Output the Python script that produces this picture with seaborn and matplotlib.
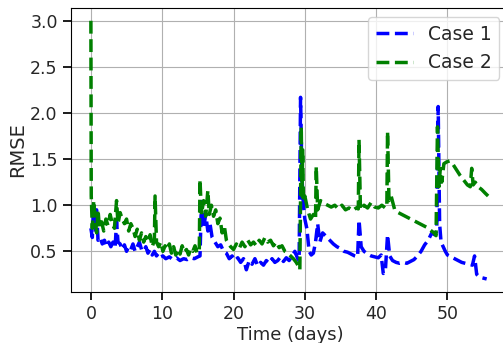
import matplotlib
matplotlib.use("Agg")
import matplotlib.pyplot as plt
import seaborn as sns
import pandas as pd

# ---- data ----
t1 = [0.0, 0.2, 0.4, 0.6, 0.8, 1.0, 1.3, 1.6, 1.9, 2.2,
      2.5, 2.8, 3.1, 3.4, 3.6, 3.8, 4.1, 4.4, 4.7, 5.0,
      5.3, 5.6, 5.9, 6.2, 6.5, 6.8, 7.1, 7.4, 7.7, 8.0,
      8.3, 8.6, 8.9, 9.2, 9.5, 9.8, 10.1, 10.5, 11.0, 11.5,
      12.0, 12.5, 13.0, 13.5, 14.0, 14.5, 15.0, 15.3, 15.5, 15.8,
      16.1, 16.4, 16.7, 17.0, 17.4, 17.8, 18.2, 18.6, 19.0, 19.4,
      19.8, 20.2, 20.6, 21.0, 21.4, 21.8, 22.2, 22.6, 23.0, 23.4,
      23.8, 24.2, 24.6, 25.0, 25.4, 25.8, 26.2, 26.6, 27.0, 27.4,
      27.8, 28.2, 28.6, 29.0, 29.2, 29.4, 29.6, 29.8, 30.0, 30.3,
      30.6, 30.9, 31.2, 31.5, 31.8, 32.1, 32.5, 33.0, 33.5, 34.0,
      34.5, 35.0, 35.5, 36.0, 36.5, 37.0, 37.4, 37.6, 37.9, 38.3,
      38.8, 39.3, 39.8, 40.3, 40.7, 41.0, 41.3, 41.6, 41.9, 42.3,
      42.8, 43.3, 43.8, 44.3, 44.8, 45.3, 45.8, 46.3, 46.8, 47.3,
      47.8, 48.2, 48.5, 48.7, 48.9, 49.1, 49.4, 49.7, 50.0, 50.5,
      51.0, 51.5, 52.0, 52.5, 53.0, 53.5, 53.8, 54.1, 54.5, 55.0,
      55.5]
case1 = [0.75, 0.65, 1.0, 0.7, 0.95, 0.62, 0.65, 0.58, 0.62, 0.55,
         0.6, 0.55, 0.6, 0.55, 0.82, 0.6, 0.58, 0.52, 0.57, 0.5,
         0.55, 0.52, 0.58, 0.5, 0.55, 0.6, 0.52, 0.5, 0.55, 0.48,
         0.52, 0.46, 0.5, 0.45, 0.48, 0.44, 0.45, 0.42, 0.44, 0.41,
         0.43, 0.4, 0.42, 0.41, 0.43, 0.42, 0.44, 0.45, 1.04, 0.75,
         0.9, 0.72, 0.8, 0.65, 0.6, 0.55, 0.57, 0.5, 0.48, 0.42,
         0.45, 0.4, 0.43, 0.38, 0.42, 0.3, 0.4, 0.36, 0.42, 0.34,
         0.38, 0.35, 0.4, 0.37, 0.42, 0.38, 0.4, 0.44, 0.39, 0.43,
         0.4, 0.45, 0.5, 0.42, 0.4, 2.17, 1.3, 1.0, 0.85, 0.74,
         0.5, 0.46, 0.48, 0.6, 0.8, 0.6, 0.7, 0.66, 0.62, 0.58,
         0.55, 0.53, 0.5, 0.49, 0.47, 0.45, 0.44, 0.84, 0.55, 0.5,
         0.47, 0.45, 0.44, 0.43, 0.46, 0.26, 0.3, 0.68, 0.45, 0.4,
         0.38, 0.37, 0.38, 0.37, 0.39, 0.41, 0.45, 0.5, 0.57, 0.62,
         0.7, 0.68, 0.72, 2.07, 0.8, 0.6, 0.55, 0.5, 0.46, 0.44,
         0.42, 0.4, 0.38, 0.37, 0.36, 0.35, 0.45, 0.25, 0.22, 0.21,
         0.2]

t2 = [0.0, 0.05, 0.2, 0.4, 0.6, 0.8, 1.0, 1.2, 1.5, 1.8,
      2.1, 2.4, 2.7, 3.0, 3.3, 3.6, 3.8, 4.1, 4.4, 4.7,
      5.0, 5.3, 5.6, 5.9, 6.2, 6.5, 6.8, 7.1, 7.4, 7.7,
      8.0, 8.3, 8.6, 8.9, 9.0, 9.2, 9.5, 9.8, 10.1, 10.4,
      10.7, 11.0, 11.3, 11.6, 11.9, 12.2, 12.5, 12.8, 13.1, 13.4,
      13.7, 14.0, 14.3, 14.6, 14.9, 15.2, 15.3, 15.5, 15.8, 16.1,
      16.4, 16.6, 16.9, 17.2, 17.5, 17.8, 18.1, 18.4, 18.7, 19.0,
      19.3, 19.6, 20.0, 20.4, 20.8, 21.2, 21.6, 22.0, 22.4, 22.8,
      23.2, 23.6, 24.0, 24.4, 24.8, 25.2, 25.6, 26.0, 26.4, 26.8,
      27.2, 27.6, 28.0, 28.4, 28.8, 29.1, 29.3, 29.5, 29.6, 29.7,
      29.8, 30.0, 30.4, 30.8, 31.2, 31.5, 31.6, 31.8, 32.2, 32.7,
      33.2, 33.7, 34.2, 34.7, 35.2, 35.7, 36.2, 36.7, 37.2, 37.5,
      37.6, 37.8, 38.3, 38.8, 39.3, 39.8, 40.3, 40.8, 41.3, 41.5,
      41.6, 41.8, 42.1, 42.6, 43.1, 43.6, 44.1, 44.6, 45.1, 45.6,
      46.1, 46.6, 47.1, 47.6, 48.1, 48.4, 48.6, 48.8, 49.0, 49.2,
      49.5, 49.9, 50.3, 50.8, 51.3, 51.8, 52.3, 52.8, 53.2, 53.4,
      53.6, 53.9, 54.3, 54.8, 55.3, 55.7]
case2 = [3.0, 1.1, 0.75, 1.05, 0.85, 0.7, 0.95, 0.75, 0.82, 0.72,
         0.85, 0.78, 0.9, 0.8, 0.75, 1.05, 0.8, 0.92, 0.85, 0.8,
         0.85, 0.72, 0.8, 0.75, 0.66, 0.74, 0.62, 0.7, 0.6, 0.66,
         0.6, 0.68, 0.55, 0.62, 1.1, 0.6, 0.55, 0.6, 0.5, 0.56,
         0.52, 0.58, 0.48, 0.55, 0.46, 0.52, 0.47, 0.56, 0.49, 0.52,
         0.46, 0.53, 0.5, 0.56, 0.48, 0.5, 1.28, 0.9, 1.05, 0.88,
         1.16, 0.9, 1.0, 0.88, 0.95, 0.8, 0.86, 0.7, 0.78, 0.62,
         0.58, 0.55, 0.52, 0.58, 0.53, 0.6, 0.55, 0.62, 0.57, 0.6,
         0.56, 0.62, 0.58, 0.65, 0.6, 0.62, 0.56, 0.6, 0.54, 0.56,
         0.5, 0.48, 0.45, 0.42, 0.38, 0.34, 0.3, 1.85, 1.1, 1.6,
         1.05, 1.1, 0.95, 0.85, 0.9, 0.85, 1.42, 0.95, 1.05, 1.02,
         1.0, 0.98, 1.0, 0.96, 1.0, 0.95, 0.97, 0.94, 0.97, 0.96,
         1.71, 0.95, 1.0, 0.97, 1.03, 0.98, 0.97, 1.0, 0.97, 0.98,
         1.8, 1.05, 1.1, 0.95, 0.92, 0.9, 0.88, 0.86, 0.84, 0.82,
         0.8, 0.78, 0.76, 0.73, 0.7, 0.67, 1.85, 1.2, 1.4, 1.25,
         1.45, 1.47, 1.48, 1.44, 1.38, 1.32, 1.27, 1.22, 1.2, 1.4,
         1.22, 1.25, 1.2, 1.17, 1.13, 1.1]

series_names = ["Case 1", "Case 2"]
series_colors = ["blue", "green"]
x_label = "Time (days)"
y_label = "RMSE"

sns.set_theme(style="ticks")
plt.rcParams["font.family"] = ["DejaVu Sans"]

fig = plt.figure(figsize=(5.03, 3.43), dpi=100)
ax = fig.add_axes([0.141, 0.149, 0.8705, 0.828])

df1 = pd.DataFrame({"t": t1, "v": case1})
df2 = pd.DataFrame({"t": t2, "v": case2})

sns.lineplot(data=df1, x="t", y="v", ax=ax, color=series_colors[0],
             linestyle="--", linewidth=2.5, label=series_names[0],
             estimator=None, sort=False)
sns.lineplot(data=df2, x="t", y="v", ax=ax, color=series_colors[1],
             linestyle="--", linewidth=2.5, label=series_names[1],
             estimator=None, sort=False)

ax.set_xlim(-2.8, 58.6)
ax.set_ylim(0.06, 3.14)
ax.set_xticks([0, 10, 20, 30, 40, 50])
ax.set_yticks([0.5, 1.0, 1.5, 2.0, 2.5, 3.0])
ax.grid(True, color="#b0b0b0", linewidth=0.8)
ax.set_xlabel(x_label, fontsize=13, labelpad=2)
ax.set_ylabel(y_label, fontsize=14, labelpad=2)
ax.tick_params(labelsize=12.5, color="black")
for s in ax.spines.values():
    s.set_color("black")
    s.set_linewidth(0.8)
ax.legend(loc="upper right", fontsize=13.5)

fig.savefig("out.png", dpi=100)
